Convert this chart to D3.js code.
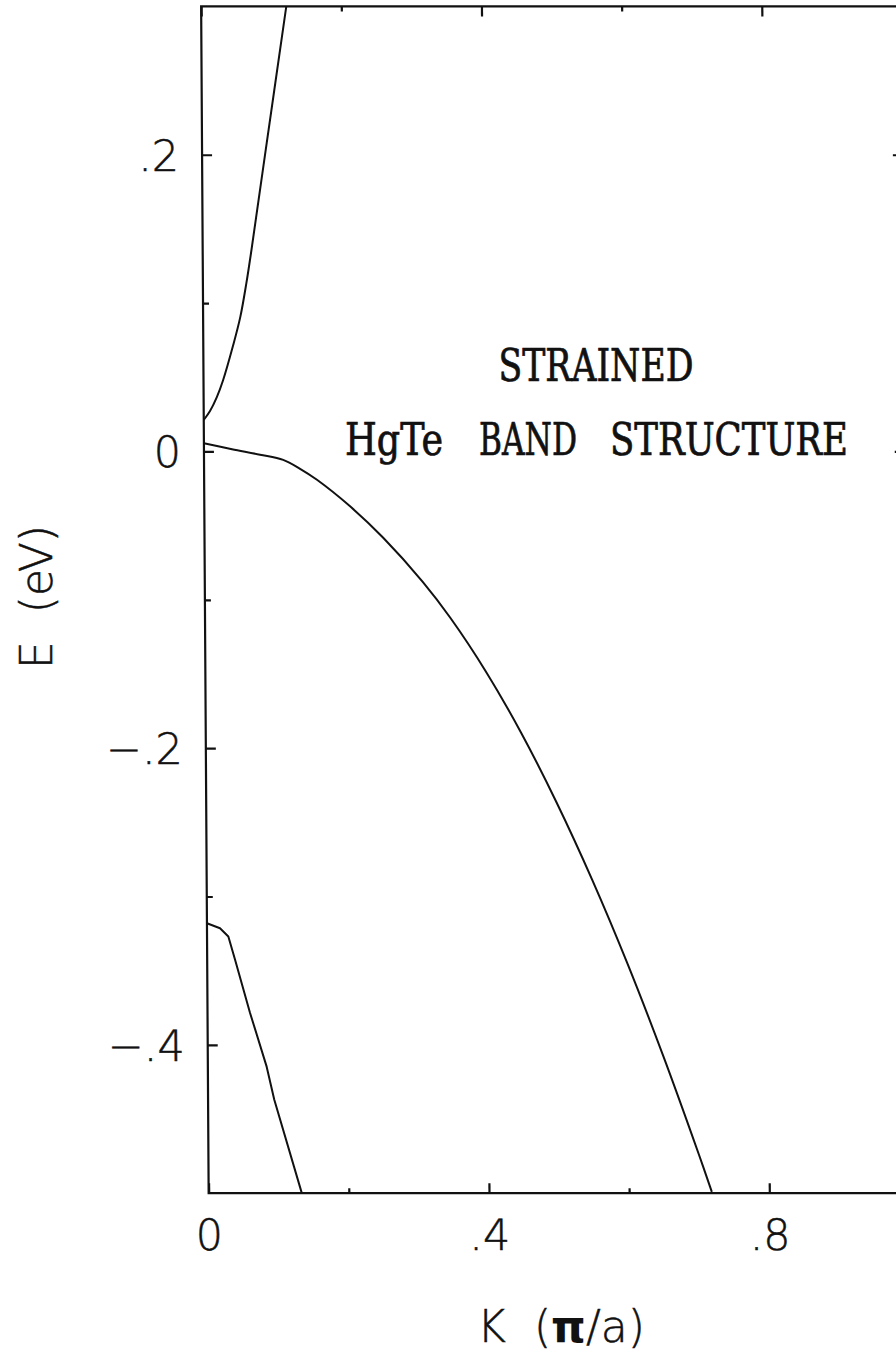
<!DOCTYPE html>
<html>
<head>
<meta charset="utf-8">
<script src="https://cdn.jsdelivr.net/npm/d3@7"></script>
<style>
  html, body { margin: 0; padding: 0; background: #fff; }
  svg { display: block; }
  .tick text { font-family: "DejaVu Sans", sans-serif; font-weight: 200; }
</style>
</head>
<body>
<svg id="chart" width="896" height="1353"></svg>
<script>
// Band energies E (eV) against wave vector K (units of pi/a)
const conductionK = [0, 0.009, 0.0187, 0.0278, 0.0424, 0.0531, 0.0621, 0.0696, 0.0898, 0.1215];
const conductionE = [0.0212, 0.0272, 0.0364, 0.0478, 0.0712, 0.0907, 0.1136, 0.1358, 0.1999, 0.3];

const heavyHoleK = [0, 0.04, 0.08, 0.113, 0.137, 0.161, 0.208, 0.255, 0.311, 0.35, 0.4, 0.45, 0.5, 0.55, 0.6, 0.65, 0.7, 0.718];
const heavyHoleE = [0.0055, 0.0015, -0.0022, -0.0057, -0.0117, -0.0191, -0.0370, -0.0582, -0.0879, -0.1121, -0.1481, -0.1896, -0.2366, -0.2886, -0.3456, -0.4076, -0.4741, -0.4991];

const lowerBandK = [0, 0.0186, 0.0304, 0.0397, 0.0607, 0.0839, 0.0945, 0.1327];
const lowerBandE = [-0.318, -0.3214, -0.327, -0.3424, -0.3785, -0.4147, -0.437, -0.4996];

const xMajorTicks = [0, 0.4, 0.8];
const xMinorTicks = [0.2, 0.6];
const yMajorTicks = [-0.4, -0.2, 0, 0.2];
const yMinorTicks = [-0.3, -0.1, 0.1];

const xDomain = [0, 1];
const yDomain = [-0.5, 0.3];

const titleTop = "STRAINED";
const titleWords = ["HgTe", "BAND", "STRUCTURE"];
const xTitle = "K\u00A0\u00A0(";
const xTitlePi = "π";
const xTitleTail = "/a)";
const yTitle = "E\u00A0\u00A0(eV)";

const svg = d3.select("#chart");
const ink = "#111";

const x = d3.scaleLinear().domain(xDomain).range([201.1, 901.9]);
const y = d3.scaleLinear().domain(yDomain).range([1193.2, 6.4]);

const tickFmt = d => d === 0 ? "0" : d3.format(".1f")(d).replace("0.", ".");

// slight shear of the whole frame, as on the printed page
const plot = svg.append("g").attr("transform", "skewX(0.363)");

svg.append("defs").append("clipPath").attr("id", "frameClip")
  .append("rect")
  .attr("x", x(xDomain[0])).attr("y", y(yDomain[1]))
  .attr("width", x(xDomain[1]) - x(xDomain[0]))
  .attr("height", y(yDomain[0]) - y(yDomain[1]));

function styleAxis(g) {
  g.select(".domain").remove();
  g.selectAll(".tick line").attr("stroke", ink).attr("stroke-width", 2.2);
  g.selectAll(".tick text").attr("fill", ink).attr("font-size", 43)
    .attr("stroke", ink).attr("stroke-width", 0.5);
}

// bottom axis
plot.append("g").attr("transform", `translate(0,${y(yDomain[0])})`)
  .call(d3.axisBottom(x).tickValues(xMajorTicks).tickFormat(tickFmt).tickSizeInner(-10).tickSizeOuter(0).tickPadding(26))
  .call(styleAxis);
plot.append("g").attr("transform", `translate(0,${y(yDomain[0])})`)
  .call(d3.axisBottom(x).tickValues(xMinorTicks).tickFormat("").tickSizeInner(-5).tickSizeOuter(0))
  .call(styleAxis);

// top axis
plot.append("g").attr("transform", `translate(0,${y(yDomain[1])})`)
  .call(d3.axisTop(x).tickValues(xMajorTicks).tickFormat("").tickSizeInner(-10).tickSizeOuter(0))
  .call(styleAxis);
plot.append("g").attr("transform", `translate(0,${y(yDomain[1])})`)
  .call(d3.axisTop(x).tickValues(xMinorTicks).tickFormat("").tickSizeInner(-5).tickSizeOuter(0))
  .call(styleAxis);

// left axis
const leftMajor = plot.append("g").attr("transform", `translate(${x(xDomain[0])},0)`)
  .call(d3.axisLeft(y).tickValues(yMajorTicks).tickFormat(tickFmt).tickSizeInner(-10).tickSizeOuter(0).tickPadding(23))
  .call(styleAxis);
leftMajor.selectAll(".tick text").attr("dy", "0.36em");
plot.append("g").attr("transform", `translate(${x(xDomain[0])},0)`)
  .call(d3.axisLeft(y).tickValues(yMinorTicks).tickFormat("").tickSizeInner(-6).tickSizeOuter(0))
  .call(styleAxis);

// right axis
plot.append("g").attr("transform", `translate(${x(xDomain[1])},0)`)
  .call(d3.axisRight(y).tickValues(yMajorTicks).tickFormat("").tickSizeInner(-10).tickSizeOuter(0))
  .call(styleAxis);
plot.append("g").attr("transform", `translate(${x(xDomain[1])},0)`)
  .call(d3.axisRight(y).tickValues(yMinorTicks).tickFormat("").tickSizeInner(-6).tickSizeOuter(0))
  .call(styleAxis);

// frame
plot.append("rect")
  .attr("x", x(xDomain[0])).attr("y", y(yDomain[1]))
  .attr("width", x(xDomain[1]) - x(xDomain[0]))
  .attr("height", y(yDomain[0]) - y(yDomain[1]))
  .attr("fill", "none").attr("stroke", ink).attr("stroke-width", 2.2);

// bands: the two upper ones are smooth, the lowest is drawn segment by segment
const smooth = d3.line().x(d => x(d[0])).y(d => y(d[1])).curve(d3.curveCatmullRom.alpha(0.5));
const straight = d3.line().x(d => x(d[0])).y(d => y(d[1]));
const bands = [
  { pts: d3.zip(conductionK, conductionE), gen: smooth },
  { pts: d3.zip(heavyHoleK, heavyHoleE), gen: smooth },
  { pts: d3.zip(lowerBandK, lowerBandE), gen: straight }
];
plot.append("g").attr("clip-path", "url(#frameClip)")
  .selectAll("path").data(bands).join("path")
  .attr("d", b => b.gen(b.pts))
  .attr("fill", "none").attr("stroke", ink).attr("stroke-width", 2)
  .attr("stroke-linejoin", "round");

// title block
const title = svg.append("g")
  .attr("font-family", "'DejaVu Serif Condensed', 'DejaVu Serif', serif")
  .attr("font-size", 45).attr("fill", ink)
  .attr("stroke", ink).attr("stroke-width", 0.7)
  .attr("text-anchor", "middle");
title.append("text").attr("x", 596).attr("y", 381)
  .attr("textLength", 195).attr("lengthAdjust", "spacingAndGlyphs").text(titleTop);
const wordCenters = [394, 528, 729];
const wordLengths = [98, 98, 238];
title.selectAll("text.word").data(titleWords).join("text")
  .attr("class", "word")
  .attr("x", (d, i) => wordCenters[i]).attr("y", 455)
  .attr("textLength", (d, i) => wordLengths[i]).attr("lengthAdjust", "spacingAndGlyphs")
  .text(d => d);

// axis titles
const xt = svg.append("text")
  .attr("x", 561).attr("y", 1342)
  .attr("text-anchor", "middle")
  .attr("font-family", "'DejaVu Sans', sans-serif").attr("font-weight", 200)
  .attr("font-size", 44).attr("fill", ink)
  .attr("stroke", ink).attr("stroke-width", 0.5);
xt.append("tspan").text(xTitle);
xt.append("tspan").attr("font-weight", 700).attr("stroke-width", 0).text(xTitlePi);
xt.append("tspan").text(xTitleTail);

svg.append("text")
  .attr("transform", "translate(52,597) rotate(-90)")
  .attr("text-anchor", "middle")
  .attr("font-family", "'DejaVu Sans', sans-serif").attr("font-weight", 200)
  .attr("font-size", 44).attr("fill", ink)
  .attr("stroke", ink).attr("stroke-width", 0.5)
  .text(yTitle);
</script>
</body>
</html>
